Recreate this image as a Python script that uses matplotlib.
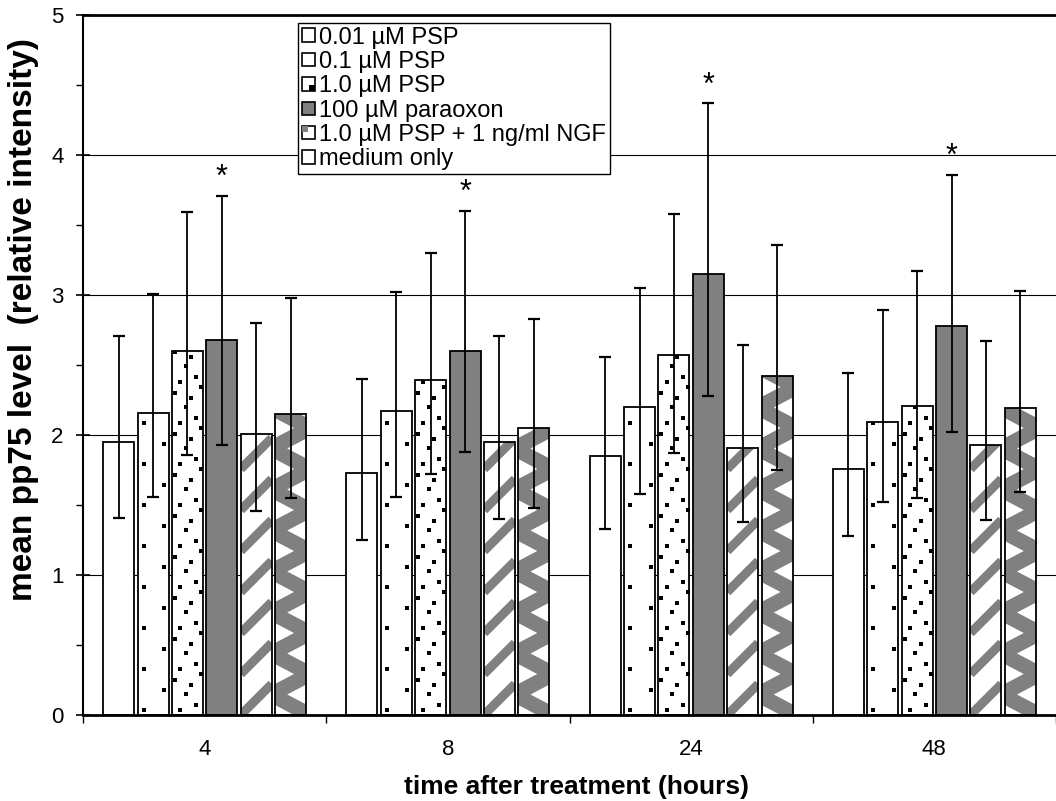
import matplotlib
matplotlib.use("Agg")
import matplotlib.pyplot as plt
from matplotlib.patches import Rectangle, Patch
from matplotlib.legend_handler import HandlerBase
from matplotlib.ticker import MultipleLocator, FixedLocator

plt.rcParams["font.family"] = ["Liberation Sans", "DejaVu Sans"]
plt.rcParams["xtick.labelsize"] = 16
plt.rcParams["ytick.labelsize"] = 16

hours = ["4", "8", "24", "48"]
labels = ["0.01 µM PSP", "0.1 µM PSP", "1.0 µM PSP", "100 µM paraoxon",
          "1.0 µM PSP + 1 ng/ml NGF", "medium only"]

# means and error bar ends, read per time point (4, 8, 24, 48 h)
psp001 = [1.95, 1.73, 1.85, 1.76]
psp001_lo = [1.41, 1.25, 1.33, 1.28]
psp001_hi = [2.71, 2.40, 2.56, 2.44]

psp01 = [2.16, 2.17, 2.20, 2.09]
psp01_lo = [1.56, 1.56, 1.58, 1.52]
psp01_hi = [3.01, 3.02, 3.05, 2.89]

psp1 = [2.60, 2.39, 2.57, 2.21]
psp1_lo = [1.86, 1.72, 1.87, 1.55]
psp1_hi = [3.59, 3.30, 3.58, 3.17]

paraoxon = [2.68, 2.60, 3.15, 2.78]
paraoxon_lo = [1.93, 1.88, 2.28, 2.02]
paraoxon_hi = [3.71, 3.60, 4.37, 3.86]

psp_ngf = [2.01, 1.95, 1.91, 1.93]
psp_ngf_lo = [1.46, 1.40, 1.38, 1.39]
psp_ngf_hi = [2.80, 2.71, 2.64, 2.67]

medium = [2.15, 2.05, 2.42, 2.19]
medium_lo = [1.55, 1.48, 1.75, 1.59]
medium_hi = [2.98, 2.83, 3.36, 3.03]

significant = [True, True, True, True]  # asterisk over paraoxon bars

series = [(psp001, psp001_lo, psp001_hi), (psp01, psp01_lo, psp01_hi),
          (psp1, psp1_lo, psp1_hi), (paraoxon, paraoxon_lo, paraoxon_hi),
          (psp_ngf, psp_ngf_lo, psp_ngf_hi), (medium, medium_lo, medium_hi)]

GRAY = "#808080"
W, H, DPI = 10.56, 8.01, 100
L, R, B, T = 83 / 1056, 1.0, 86 / 801, 786 / 801

fig = plt.figure(figsize=(W, H), dpi=DPI)
ax = fig.add_axes([L, B, R - L, T - B])
ax.set_xlim(-0.5, 3.5)
ax.set_ylim(0, 5)

# data units per screen pixel, for the fill patterns
px_x = 4.0 / (W * DPI * (R - L))
px_y = 5.0 / (H * DPI * (T - B))

bar_w = 31 * px_x
step = 34.4 * px_x


def squares(bar, cols, period, size=5):
    x0, h = bar.get_x(), bar.get_height()
    xs, ys = [], []
    for off, phase in cols:
        y = phase
        while y * px_y < h + 5 * px_y:
            xs.append(x0 + off * px_x)
            ys.append(y * px_y)
            y += period
    sc = ax.scatter(xs, ys, marker="s", s=(size * 0.72) ** 2, c="black",
                    linewidths=0, zorder=2.5)
    sc.set_clip_path(bar)


def stripes(bar, period=41, lw=9):
    x0, w, h = bar.get_x(), bar.get_width(), bar.get_height()
    rise = w / px_x * px_y
    y = -period * 2 * px_y
    while y < h + period * px_y:
        ln, = ax.plot([x0, x0 + w], [y, y + rise], color=GRAY, lw=lw * 0.72,
                      solid_capstyle="butt", zorder=2.5)
        ln.set_clip_path(bar)
        y += period * px_y


def zigzag(bar, period=41, lw=15):
    x0, w, h = bar.get_x(), bar.get_width(), bar.get_height()
    xs, ys = [], []
    y, k = -period * px_y, 0
    while y < h + period * px_y:
        xs.append(x0 + w + 4 * px_x if k % 2 == 0 else x0 - 4 * px_x)
        ys.append(y)
        y += period / 2 * px_y
        k += 1
    ln, = ax.plot(xs, ys, color=GRAY, lw=lw * 0.72, solid_joinstyle="miter", zorder=2.5)
    ln.set_clip_path(bar)


groups = list(range(len(hours)))
for i, (mean, lo, hi) in enumerate(series):
    xpos = [g + (i - 2.5) * step for g in groups]
    face = GRAY if i == 3 else "white"
    bars = ax.bar(xpos, mean, width=bar_w, color=face, edgecolor="none", zorder=2)
    for b in bars:
        if i == 1:
            squares(b, [(6, 4.7), (26.5, 25.2)], 41)
        elif i == 2:
            squares(b, [(3, 35), (8.3, 4.7), (13.7, 20.7), (19, 30.4),
                        (24.3, 9.7), (29.3, 40.7)], 41)
        elif i == 4:
            stripes(b)
        elif i == 5:
            zigzag(b)
    ax.bar(xpos, mean, width=bar_w, fill=False, edgecolor="black", lw=1.3, zorder=3)
    yerr = [[m - l for m, l in zip(mean, lo)], [h - m for m, h in zip(mean, hi)]]
    ax.errorbar(xpos, mean, yerr=yerr, fmt="none", ecolor="black", elinewidth=1.3,
                capsize=4.6, capthick=1.6, zorder=4)
    if i == 3:
        for x, top, sig in zip(xpos, hi, significant):
            if sig:
                ax.annotate("*", (x, top), xytext=(0, 7), textcoords="offset points",
                            ha="center", va="baseline", fontsize=22)

# axes styling
ax.yaxis.set_major_locator(MultipleLocator(1))
ax.yaxis.set_minor_locator(MultipleLocator(0.5))
ax.grid(axis="y", which="major", color="black", lw=0.8, zorder=0)
ax.set_axisbelow(True)
ax.tick_params(axis="y", which="major", direction="inout", length=10, width=1.2,
               labelsize=16, pad=9)
ax.tick_params(axis="y", which="minor", direction="out", length=5, width=1)

ax.xaxis.set_major_locator(FixedLocator([-0.5, 0.5, 1.5, 2.5, 3.5]))
ax.xaxis.set_minor_locator(FixedLocator(groups))
ax.set_xticklabels([], minor=False)
ax.set_xticklabels(hours, minor=True, fontsize=16)
ax.tick_params(axis="x", which="major", direction="out", length=6, width=1)
ax.tick_params(axis="x", which="minor", length=0, labelsize=16, pad=17)

for side in ["left", "bottom", "top"]:
    ax.spines[side].set_color("black")
ax.spines["left"].set_linewidth(1.5)
ax.spines["bottom"].set_linewidth(2)
ax.spines["top"].set_linewidth(2)
ax.spines["right"].set_visible(False)

ax.set_xlabel("time after treatment (hours)", fontsize=19, fontweight="bold")
ax.xaxis.set_label_coords((576 - 83) / 973, (715 - 775) / 700)
ax.set_ylabel("mean pp75 level  (relative intensity)", fontsize=24, fontweight="bold")
ax.yaxis.set_label_coords((39 - 83) / 973, (715 - 320) / 700)


class SquareHandler(HandlerBase):
    def __init__(self, face, inner=None, corner="br"):
        super().__init__()
        self.face, self.inner, self.corner = face, inner, corner

    def create_artists(self, legend, orig_handle, xdescent, ydescent, width, height,
                       fontsize, trans):
        s = height
        x0, y0 = -xdescent, -ydescent
        arts = [Rectangle((x0, y0), s, s, facecolor=self.face, edgecolor="black",
                          lw=1.2, transform=trans)]
        if self.inner:
            q = s * 0.45
            ix = x0 + s - q if self.corner == "br" else x0
            iy = y0 if self.corner == "br" else y0 + s - q
            arts.insert(0, Rectangle((ix, iy), q, q, facecolor=self.inner,
                                     edgecolor="none", transform=trans))
            arts.reverse()
        return arts


handle_styles = [("white", None, "br"), ("white", None, "br"), ("white", "black", "br"),
                 (GRAY, None, "br"), ("white", GRAY, "tl"), ("white", None, "br")]
handles = [Patch(label=lab) for lab in labels]
hmap = {h: SquareHandler(*st) for h, st in zip(handles, handle_styles)}
leg = ax.legend(handles=handles, handler_map=hmap, loc="upper left",
                bbox_to_anchor=((298 - 83) / 973, (715 - 23) / 700), borderaxespad=0,
                fontsize=17, handlelength=0.5, handleheight=0.5, handletextpad=0.25,
                labelspacing=0.1, borderpad=0.15, fancybox=False, framealpha=1,
                edgecolor="black")
leg.get_frame().set_linewidth(1.0)
leg.set_zorder(6)

fig.savefig("out.png", dpi=DPI)
